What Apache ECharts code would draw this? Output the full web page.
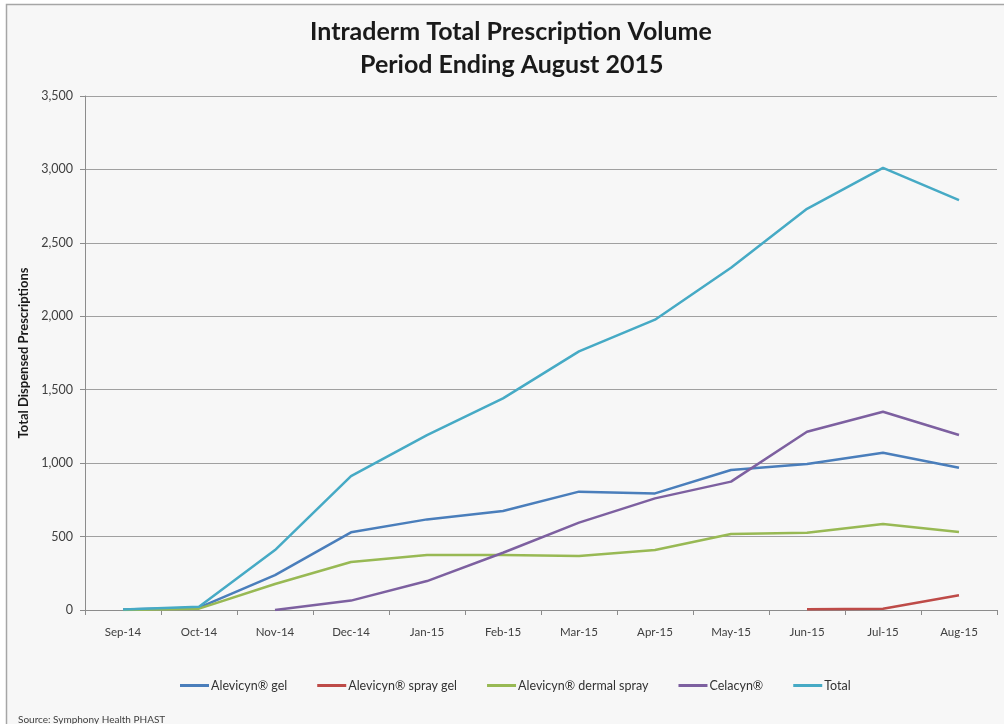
<!DOCTYPE html>
<html>
<head>
<meta charset="utf-8">
<script src="https://cdn.jsdelivr.net/npm/echarts@6/dist/echarts.min.js"></script>
<style>
html,body{margin:0;padding:0;background:#ffffff;}
#c{width:1004px;height:724px;}
</style>
</head>
<body>
<div id="c"></div>
<script>
var categories = ['Sep-14','Oct-14','Nov-14','Dec-14','Jan-15','Feb-15','Mar-15','Apr-15','May-15','Jun-15','Jul-15','Aug-15'];
var alevicynGel = [3, 16, 238, 529, 617, 674, 806, 794, 953, 994, 1071, 969];
var alevicynSprayGel = ['-', '-', '-', '-', '-', '-', '-', '-', '-', 5, 9, 100];
var alevicynDermalSpray = [0, 9, 177, 327, 374, 374, 368, 408, 517, 526, 586, 531];
var celacyn = ['-', '-', 0, 64, 197, 390, 595, 760, 874, 1214, 1350, 1192];
var total = [3, 22, 408, 912, 1191, 1441, 1761, 1977, 2330, 2732, 3011, 2791];
var yTicks = [0, 500, 1000, 1500, 2000, 2500, 3000, 3500];

var seriesNames = ['Alevicyn\u00ae gel', 'Alevicyn\u00ae spray gel', 'Alevicyn\u00ae dermal spray', 'Celacyn\u00ae', 'Total'];
var seriesData = [alevicynGel, alevicynSprayGel, alevicynDermalSpray, celacyn, total];
var colors = ['#4A7EBB', '#BE4B48', '#98B954', '#7D60A0', '#46AAC5'];

var FONT = 'Lato, "Open Sans", sans-serif';
var titleStyle = {fontFamily: FONT, fontWeight: 'bold', fontSize: 25, color: '#1a1a1a', lineHeight: 33};
var chart = echarts.init(document.getElementById('c'), null, {renderer: 'canvas'});
chart.setOption({
  backgroundColor: '#ffffff',
  animation: false,
  color: colors,
  graphic: [
    {type: 'rect', shape: {x: 6.5, y: 4.5, width: 1010, height: 730}, style: {fill: '#f7f7f7', stroke: '#a6a6a6', lineWidth: 1.5}, z: -10},
    {type: 'text', left: 18, top: 715, style: {text: 'Source: Symphony Health PHAST', fill: '#404040', font: '10px ' + FONT}}
  ],
  title: [
    {text: 'Intraderm Total Prescription Volume', left: 305, top: 10, textStyle: titleStyle},
    {text: 'Period Ending August 2015', left: 355, top: 43, textStyle: titleStyle}
  ],
  legend: {
    data: seriesNames,
    bottom: 27,
    left: 175,
    icon: 'rect',
    itemWidth: 29,
    itemHeight: 3,
    itemGap: 30,
    textStyle: {fontFamily: FONT, fontSize: 12.5, color: '#333333', padding: [0, 0, 0, -3]}
  },
  grid: {left: 85, right: 7, top: 96, bottom: 114, containLabel: false},
  xAxis: {
    type: 'category',
    data: categories,
    boundaryGap: true,
    axisLine: {lineStyle: {color: '#8c8c8c', width: 1}},
    axisTick: {show: true, length: 5, lineStyle: {color: '#8c8c8c'}},
    axisLabel: {fontFamily: FONT, fontSize: 11.5, color: '#404040', margin: 16}
  },
  yAxis: {
    type: 'value',
    min: 0,
    max: 3500,
    interval: 500,
    name: 'Total Dispensed Prescriptions',
    nameLocation: 'middle',
    nameGap: 53,
    nameRotate: 90,
    nameTextStyle: {fontFamily: FONT, fontWeight: 'bold', fontSize: 13, color: '#1a1a1a'},
    axisLine: {show: true, lineStyle: {color: '#8c8c8c'}},
    axisTick: {show: true, inside: false, length: 5, lineStyle: {color: '#8c8c8c'}},
    splitLine: {lineStyle: {color: '#a0a0a0', width: 1.2}},
    axisLabel: {
      fontFamily: FONT, fontSize: 12.5, color: '#404040', margin: 12,
      formatter: function (v) { return yTicks.indexOf(v) >= 0 ? v.toLocaleString('en-US') : ''; }
    }
  },
  series: seriesNames.map(function (n, i) {
    return {
      name: n,
      type: 'line',
      data: seriesData[i],
      symbol: 'none',
      smooth: false,
      connectNulls: false,
      lineStyle: {width: 2.5, color: colors[i]},
      itemStyle: {color: colors[i]},
      z: 2 + i
    };
  })
});
</script>
</body>
</html>
